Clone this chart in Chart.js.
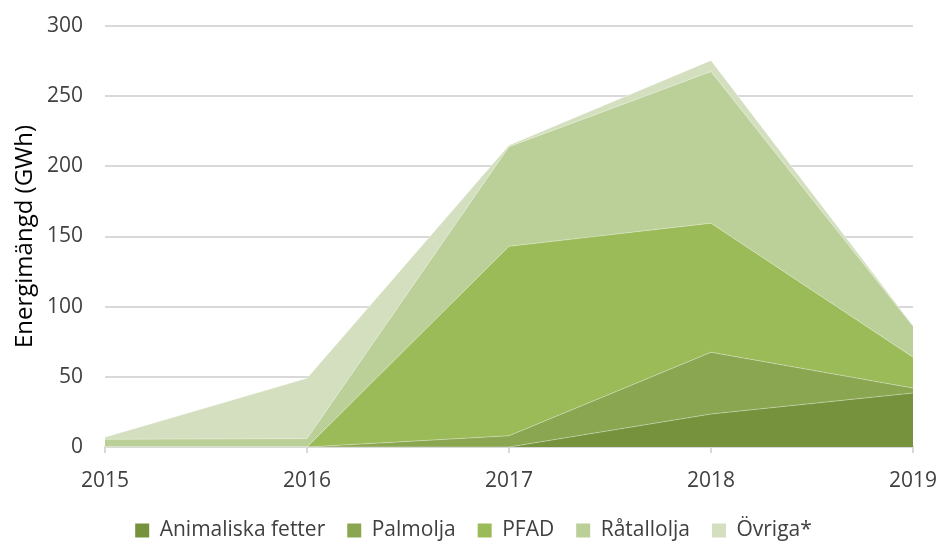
<!DOCTYPE html>
<html>
<head>
<meta charset="utf-8">
<script src="https://cdn.jsdelivr.net/npm/chart.js@4"></script>
<style>
html,body{margin:0;padding:0;background:#fff;}
#wrap{width:943px;height:541px;position:relative;}
</style>
</head>
<body>
<div id="wrap"><canvas id="c" width="943" height="541"></canvas></div>
<script>
const years = ['2015','2016','2017','2018','2019'];
const animaliska = [0, 0, 0, 23.5, 38.5];
const palmolja   = [0, 0, 8, 44, 3.5];
const pfad       = [0, 0, 135, 92, 22];
const ratallolja = [5.5, 6, 71, 108, 22];
const ovriga     = [1.5, 43, 1, 8, 0.5];
const yTicks = [0, 50, 100, 150, 200, 250, 300];

const FONT = 'Open Sans';
const TXT = '#404040';

function ds(label, data, color, fill) {
  return {
    label, data,
    backgroundColor: color,
    borderColor: 'rgba(255,255,255,0.35)',
    borderWidth: 1,
    pointRadius: 0,
    pointHoverRadius: 0,
    tension: 0,
    fill
  };
}

const legendShift = {
  id: 'legendShift',
  afterLayout(chart) {
    const lg = chart.legend;
    if (lg) { lg.left += 17; lg.right += 17; }
  }
};

new Chart(document.getElementById('c'), {
  type: 'line',
  data: {
    labels: years,
    datasets: [
      ds('Animaliska fetter', animaliska, '#76923C', 'origin'),
      ds('Palmolja', palmolja, '#8AA650', '-1'),
      ds('PFAD', pfad, '#9BBB59', '-1'),
      ds('Råtallolja', ratallolja, '#BBCF98', '-1'),
      ds('Övriga*', ovriga, '#D3DFBE', '-1')
    ]
  },
  plugins: [legendShift],
  options: {
    responsive: false,
    animation: false,
    devicePixelRatio: 1,
    layout: { padding: { left: 0, right: 30, top: 26, bottom: -10 } },
    plugins: {
      legend: {
        position: 'bottom',
        labels: {
          font: { family: FONT, size: 21 },
          color: TXT,
          boxWidth: 14,
          boxHeight: 14,
          padding: 22,
          useBorderRadius: false,
          generateLabels(chart) {
            return chart.data.datasets.map((d, i) => ({
              text: d.label,
              fillStyle: d.backgroundColor,
              strokeStyle: d.backgroundColor,
              lineWidth: 0,
              hidden: false,
              datasetIndex: i,
              fontColor: TXT
            }));
          }
        }
      },
      tooltip: { enabled: false }
    },
    scales: {
      x: {
        offset: false,
        grid: {
          display: true,
          drawOnChartArea: false,
          drawTicks: true,
          tickLength: 6,
          color: '#D9D9D9',
          lineWidth: 2
        },
        border: { display: true, color: '#D9D9D9', width: 2 },
        ticks: {
          font: { family: FONT, size: 21 },
          color: TXT,
          padding: 15,
          maxRotation: 0
        },
        afterFit(s) { s.height = 51; s.paddingLeft = 0; s.paddingRight = 0; }
      },
      y: {
        stacked: true,
        min: 0,
        max: 300,
        afterBuildTicks(s) { s.ticks = yTicks.map(v => ({ value: v })); },
        grid: {
          color: '#D9D9D9',
          lineWidth: 2,
          drawTicks: false
        },
        border: { display: false },
        ticks: {
          font: { family: FONT, size: 21 },
          color: TXT,
          padding: 22
        },
        title: {
          display: true,
          text: 'Energimängd (GWh)',
          font: { family: FONT, size: 24 },
          color: '#000',
          padding: { top: 11, bottom: 4 }
        },
        afterFit(s) { s.width = 105; s.paddingTop = 0; s.paddingBottom = 0; }
      }
    }
  }
});
</script>
</body>
</html>
